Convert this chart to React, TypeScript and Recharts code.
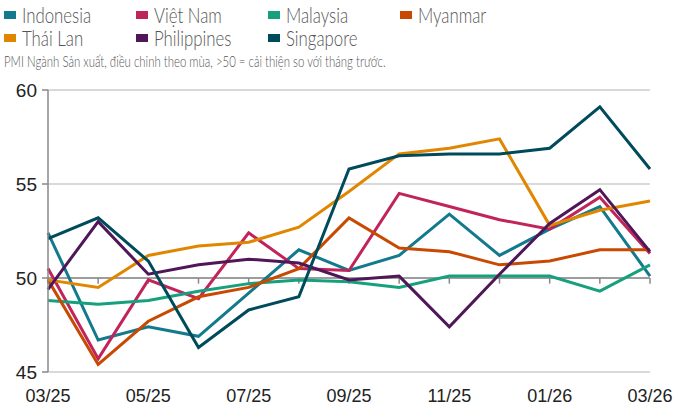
import * as React from 'react'
import { LineChart, Line, XAxis, YAxis, CartesianGrid, ReferenceLine } from 'recharts'

const months = ['03/25', '04/25', '05/25', '06/25', '07/25', '08/25', '09/25', '10/25', '11/25', '12/25', '01/26', '02/26', '03/26']

const indonesia = [52.4, 46.7, 47.4, 46.9, 49.2, 51.5, 50.4, 51.2, 53.4, 51.2, 52.6, 53.8, 50.1]
const vietnam = [50.5, 45.7, 49.9, 48.9, 52.4, 50.5, 50.4, 54.5, 53.8, 53.1, 52.6, 54.3, 51.3]
const malaysia = [48.8, 48.6, 48.8, 49.3, 49.7, 49.9, 49.8, 49.5, 50.1, 50.1, 50.1, 49.3, 50.7]
const myanmar = [49.9, 45.4, 47.7, 49.0, 49.5, 50.5, 53.2, 51.6, 51.4, 50.7, 50.9, 51.5, 51.5]
const thailand = [49.9, 49.5, 51.2, 51.7, 51.9, 52.7, 54.6, 56.6, 56.9, 57.4, 52.8, 53.6, 54.1]
const philippines = [49.4, 53.0, 50.2, 50.7, 51.0, 50.8, 49.9, 50.1, 47.4, 50.2, 52.9, 54.7, 51.4]
const singapore = [52.1, 53.2, 50.9, 46.3, 48.3, 49.0, 55.8, 56.5, 56.6, 56.6, 56.9, 59.1, 55.8]

const yTicks = [45, 50, 55, 60]

const series = [
  { key: 'indonesia', name: 'Indonesia', color: '#127a8c', values: indonesia },
  { key: 'vietnam', name: 'Việt Nam', color: '#c0245b', values: vietnam },
  { key: 'malaysia', name: 'Malaysia', color: '#17a07e', values: malaysia },
  { key: 'myanmar', name: 'Myanmar', color: '#c84a02', values: myanmar },
  { key: 'thailand', name: 'Thái Lan', color: '#e08600', values: thailand },
  { key: 'philippines', name: 'Philippines', color: '#4f1758', values: philippines },
  { key: 'singapore', name: 'Singapore', color: '#004b5b', values: singapore },
]

const data = months.map((m, i) => {
  const row: Record<string, string | number> = { month: m }
  series.forEach((s) => {
    row[s.key] = s.values[i]
  })
  return row
})

const legendFont = 'Lato, sans-serif'
const axisFont = 'Liberation Sans, Arial, sans-serif'

export default function App() {
  return (
    <div style={{ position: 'absolute', left: 0, top: 0, width: 676, height: 407, background: '#fff', overflow: 'hidden' }}>
      {series.map((s, i) => (
        <div
          key={s.key}
          style={{
            position: 'absolute',
            left: 4 + (i % 4) * 132,
            top: i < 4 ? 4 : 27,
            display: 'flex',
            alignItems: 'center',
            fontFamily: legendFont,
            fontWeight: 300,
            fontSize: 21,
            color: '#555',
            lineHeight: '22px',
            whiteSpace: 'nowrap',
          }}
        >
          <span style={{ display: 'inline-block', width: 12, height: 8, background: s.color, marginRight: 6 }} />
          <span style={{ display: 'inline-block', transform: 'scaleX(0.8)', transformOrigin: 'left center' }}>{s.name}</span>
        </div>
      ))}
      <div
        style={{
          position: 'absolute',
          left: 4,
          top: 52,
          fontFamily: legendFont,
          fontWeight: 300,
          fontSize: 15,
          color: '#555',
          whiteSpace: 'nowrap',
          transform: 'scaleX(0.76)',
          transformOrigin: 'left center',
        }}
      >
        PMI Ngành Sản xuất, điều chỉnh theo mùa, &gt;50 = cải thiện so với tháng trước.
      </div>
      <div style={{ position: 'absolute', left: 0, top: 0 }}>
        <LineChart width={676} height={407} data={data} margin={{ top: 90, right: 26, bottom: 0, left: 0 }}>
          <CartesianGrid vertical={false} stroke="#cccccc" strokeWidth={1.5} />
          <XAxis
            dataKey="month"
            interval={1}
            axisLine={false}
            tickLine={false}
            height={35}
            tick={{ fill: '#222', fontSize: 18, fontFamily: axisFont }}
            tickMargin={11}
          />
          <YAxis
            domain={[45, 60]}
            ticks={yTicks}
            width={48}
            axisLine={{ stroke: '#888', strokeWidth: 1.5 }}
            tickLine={{ stroke: '#888', strokeWidth: 1.5 }}
            tickSize={6}
            tickMargin={5}
            tick={{ fill: '#222', fontSize: 19, fontFamily: axisFont }}
          />
          <ReferenceLine y={50} stroke="#888" strokeWidth={1.5} />
          {months.map((m) => (
            <ReferenceLine
              key={'t' + m}
              segment={[
                { x: m, y: 50 },
                { x: m, y: 49.7 },
              ]}
              stroke="#888"
              strokeWidth={1.5}
            />
          ))}
          {series.map((s) => (
            <Line
              key={s.key}
              dataKey={s.key}
              name={s.name}
              stroke={s.color}
              strokeWidth={3}
              dot={false}
              type="linear"
              isAnimationActive={false}
            />
          ))}
        </LineChart>
      </div>
    </div>
  )
}
